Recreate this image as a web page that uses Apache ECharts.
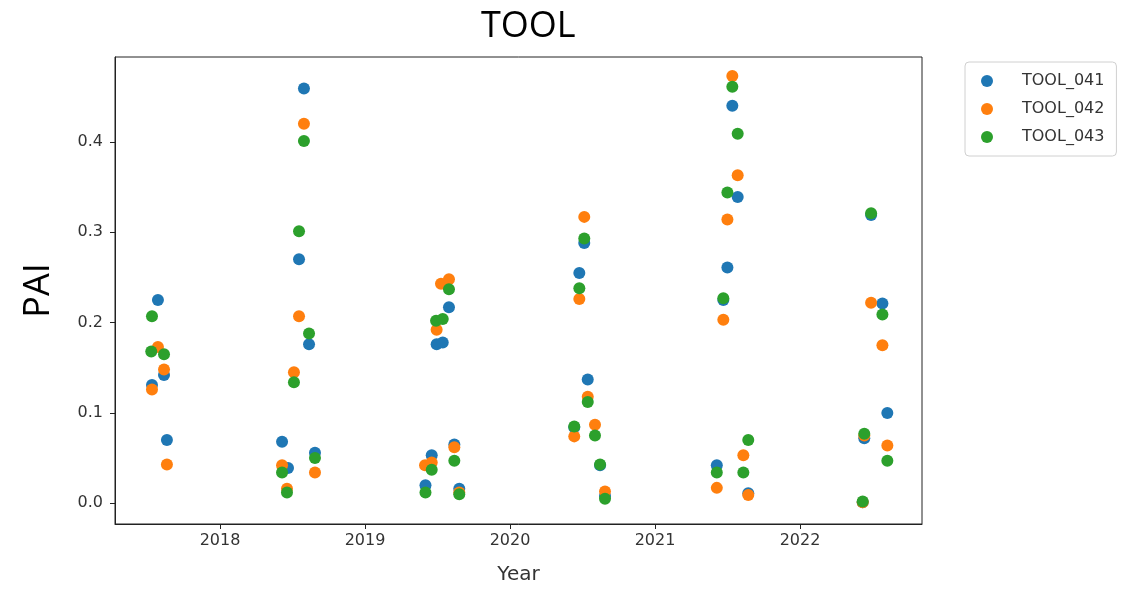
<!DOCTYPE html>
<html>
<head>
<meta charset="utf-8">
<script src="https://cdn.jsdelivr.net/npm/echarts@6/dist/echarts.min.js"></script>
<style>
html,body{margin:0;padding:0;background:#fff;}
#chart{width:1134px;height:590px;}
</style>
</head>
<body>
<div id="chart"></div>
<script>
// Decimal-year positions and PAI values
const seriesNames = ['TOOL_041', 'TOOL_042', 'TOOL_043'];
const colors = ['#1f77b4', '#ff7f0e', '#2ca02c'];
const yearTicks = [2018, 2019, 2020, 2021, 2022];
const paiTicks = [0.0, 0.1, 0.2, 0.3, 0.4];

const tool041 = [
  [2017.531, 0.131], [2017.572, 0.225], [2017.614, 0.142], [2017.634, 0.070],
  [2018.428, 0.068], [2018.469, 0.039], [2018.545, 0.270], [2018.579, 0.459], [2018.614, 0.176], [2018.655, 0.056],
  [2019.417, 0.020], [2019.460, 0.053], [2019.494, 0.176], [2019.536, 0.178], [2019.579, 0.217], [2019.616, 0.065], [2019.650, 0.016],
  [2020.443, 0.084], [2020.478, 0.255], [2020.512, 0.288], [2020.536, 0.137], [2020.621, 0.042], [2020.655, 0.008],
  [2021.426, 0.042], [2021.471, 0.225], [2021.499, 0.261], [2021.533, 0.440], [2021.570, 0.339], [2021.643, 0.011],
  [2022.432, 0.001], [2022.443, 0.072], [2022.490, 0.319], [2022.568, 0.221], [2022.602, 0.100]
];
const tool042 = [
  [2017.531, 0.126], [2017.572, 0.173], [2017.614, 0.148], [2017.634, 0.043],
  [2018.428, 0.042], [2018.462, 0.016], [2018.510, 0.145], [2018.545, 0.207], [2018.579, 0.420], [2018.655, 0.034],
  [2019.414, 0.042], [2019.460, 0.045], [2019.494, 0.192], [2019.524, 0.243], [2019.579, 0.248], [2019.616, 0.062], [2019.650, 0.012],
  [2020.443, 0.074], [2020.478, 0.226], [2020.512, 0.317], [2020.536, 0.118], [2020.586, 0.087], [2020.655, 0.013],
  [2021.426, 0.017], [2021.471, 0.203], [2021.499, 0.314], [2021.533, 0.473], [2021.570, 0.363], [2021.609, 0.053], [2021.643, 0.009],
  [2022.432, 0.001], [2022.443, 0.075], [2022.490, 0.222], [2022.568, 0.175], [2022.602, 0.064]
];
const tool043 = [
  [2017.531, 0.207], [2017.526, 0.168], [2017.614, 0.165],
  [2018.428, 0.034], [2018.462, 0.012], [2018.510, 0.134], [2018.545, 0.301], [2018.579, 0.401], [2018.614, 0.188], [2018.655, 0.050],
  [2019.417, 0.012], [2019.460, 0.037], [2019.490, 0.202], [2019.536, 0.204], [2019.579, 0.237], [2019.616, 0.047], [2019.650, 0.010],
  [2020.443, 0.085], [2020.478, 0.238], [2020.512, 0.293], [2020.536, 0.112], [2020.586, 0.075], [2020.621, 0.043], [2020.655, 0.005],
  [2021.426, 0.034], [2021.471, 0.227], [2021.499, 0.344], [2021.533, 0.461], [2021.570, 0.409], [2021.609, 0.034], [2021.643, 0.070],
  [2022.432, 0.002], [2022.443, 0.077], [2022.490, 0.321], [2022.568, 0.209], [2022.602, 0.047]
];
const allData = [tool041, tool042, tool043];

const chart = echarts.init(document.getElementById('chart'), null, {renderer: 'canvas'});
const tickFont = {fontFamily: 'DejaVu Sans', fontSize: 16, color: '#333'};

chart.setOption({
  animation: false,
  backgroundColor: '#fff',
  color: colors,
  title: {
    text: 'TOOL',
    left: 476,
    top: 4,
    textStyle: {fontFamily: 'Open Sans', fontSize: 36, fontWeight: 'normal', color: '#000'}
  },
  legend: {
    orient: 'vertical',
    left: 965,
    top: 62,
    padding: [11, 12, 11, 16],
    itemGap: 12,
    itemWidth: 12,
    itemHeight: 12,
    icon: 'circle',
    borderColor: '#d0d0d0',
    borderWidth: 1,
    borderRadius: 4,
    data: seriesNames,
    textStyle: {fontFamily: 'DejaVu Sans', fontSize: 16, color: '#333', padding: [0, 0, 0, 24]}
  },
  grid: {
    left: 115, top: 57, width: 807, height: 472,
    show: true, borderColor: '#222', borderWidth: 1, backgroundColor: 'transparent'
  },
  xAxis: {
    type: 'value',
    min: 2017.276,
    max: 2022.841,
    name: 'Year',
    nameLocation: 'middle',
    nameGap: 41,
    nameTextStyle: {fontFamily: 'DejaVu Sans', fontSize: 20, color: '#333'},
    splitLine: {show: false},
    axisLine: {show: true, onZero: false, lineStyle: {color: '#222'}},
    axisTick: {show: true, length: 5, lineStyle: {color: '#222'}, customValues: yearTicks},
    axisLabel: Object.assign({customValues: yearTicks, margin: 9, formatter: v => String(Math.round(v))}, tickFont)
  },
  yAxis: {
    type: 'value',
    min: -0.023,
    max: 0.494,
    name: 'PAI',
    nameLocation: 'middle',
    nameRotate: 90,
    nameGap: 58,
    nameTextStyle: {fontFamily: 'Open Sans', fontSize: 36, color: '#000'},
    splitLine: {show: false},
    axisLine: {show: true, onZero: false, lineStyle: {color: '#222'}},
    axisTick: {show: true, length: 5, lineStyle: {color: '#222'}, customValues: paiTicks},
    axisLabel: Object.assign({customValues: paiTicks, margin: 12, formatter: v => v.toFixed(1)}, tickFont)
  },
  series: seriesNames.map((name, i) => ({
    name: name,
    type: 'scatter',
    symbol: 'circle',
    symbolSize: 12,
    data: allData[i],
    itemStyle: {color: colors[i], opacity: 1},
    z: 2 + i
  }))
});
</script>
</body>
</html>
